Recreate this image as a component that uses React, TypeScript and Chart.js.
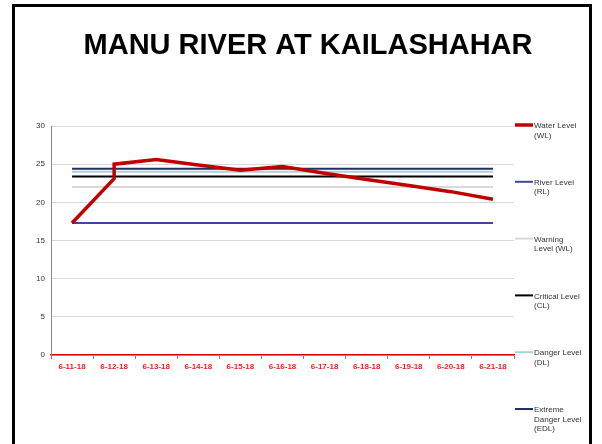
import React, { useEffect, useRef } from "react";
import { Chart, registerables } from "chart.js";

Chart.register(...registerables);

const TITLE = "MANU RIVER AT KAILASHAHAR";

const dates = [
  "6-11-18", "6-12-18", "6-13-18", "6-14-18", "6-15-18", "6-16-18",
  "6-17-18", "6-18-18", "6-19-18", "6-20-18", "6-21-18",
];

// Water level readings (6-12 has two readings, drawn as a vertical jump)
const waterDates = [
  "6-11-18", "6-12-18", "6-12-18", "6-13-18", "6-14-18", "6-15-18",
  "6-16-18", "6-17-18", "6-18-18", "6-19-18", "6-20-18", "6-21-18",
];
const waterValues = [17.3, 23.1, 25.0, 25.6, 24.9, 24.2, 24.7, 23.8, 23.0, 22.2, 21.4, 20.4];

const riverLevel = [17.3, 17.3, 17.3, 17.3, 17.3, 17.3, 17.3, 17.3, 17.3, 17.3, 17.3];
const warningLevel = [22.0, 22.0, 22.0, 22.0, 22.0, 22.0, 22.0, 22.0, 22.0, 22.0, 22.0];
const criticalLevel = [23.4, 23.4, 23.4, 23.4, 23.4, 23.4, 23.4, 23.4, 23.4, 23.4, 23.4];
const dangerLevel = [24.0, 24.0, 24.0, 24.0, 24.0, 24.0, 24.0, 24.0, 24.0, 24.0, 24.0];
const extremeLevel = [24.4, 24.4, 24.4, 24.4, 24.4, 24.4, 24.4, 24.4, 24.4, 24.4, 24.4];

const legendLabels = [
  ["Water Level", "(WL)"],
  ["River Level", "(RL)"],
  ["Warning", "Level (WL)"],
  ["Critical Level", "(CL)"],
  ["Danger Level", "(DL)"],
  ["Extreme", "Danger Level", "(EDL)"],
];

const FONT = "'Liberation Sans', Arial, Helvetica, sans-serif";

const framePlugin = {
  id: "frameTitleLegend",
  beforeDraw(chart: any) {
    const ctx = chart.ctx;
    ctx.save();
    ctx.fillStyle = "#ffffff";
    ctx.fillRect(0, 0, chart.width, chart.height);
    ctx.strokeStyle = "#000000";
    ctx.lineWidth = 3;
    ctx.strokeRect(13.5, 5.5, 577, 460);
    ctx.fillStyle = "#000000";
    ctx.font = `bold 29px ${FONT}`;
    ctx.textAlign = "center";
    ctx.textBaseline = "alphabetic";
    ctx.fillText(TITLE, 308, 54);
    ctx.restore();
  },
  afterDraw(chart: any) {
    const ctx = chart.ctx;
    ctx.save();
    const startY = 125;
    const step = 56.8;
    chart.data.datasets.forEach((ds: any, i: number) => {
      const y = startY + i * step;
      ctx.strokeStyle = ds.borderColor;
      ctx.lineWidth = ds.borderWidth;
      ctx.beginPath();
      ctx.moveTo(515, y);
      ctx.lineTo(533, y);
      ctx.stroke();
      ctx.fillStyle = "#333333";
      ctx.font = `8px ${FONT}`;
      ctx.textAlign = "left";
      ctx.textBaseline = "middle";
      legendLabels[i].forEach((t, j) => {
        ctx.fillText(t, 534, y + 1 + j * 9.4);
      });
    });
    ctx.restore();
  },
};

export default function App() {
  const ref = useRef<HTMLCanvasElement | null>(null);

  useEffect(() => {
    if (!ref.current) return;
    const waterData = waterDates.map((d, i) => ({ x: d, y: waterValues[i] }));
    const chart = new Chart(ref.current, {
      type: "line",
      data: {
        labels: dates,
        datasets: [
          { label: "Water Level (WL)", data: waterData as any, borderColor: "#c00000", borderWidth: 3.5, pointRadius: 0, tension: 0, fill: false },
          { label: "River Level (RL)", data: riverLevel, borderColor: "#44449e", borderWidth: 2, pointRadius: 0, fill: false },
          { label: "Warning Level (WL)", data: warningLevel, borderColor: "#d9d9d9", borderWidth: 2, pointRadius: 0, fill: false },
          { label: "Critical Level (CL)", data: criticalLevel, borderColor: "#000000", borderWidth: 2, pointRadius: 0, fill: false },
          { label: "Danger Level (DL)", data: dangerLevel, borderColor: "#b7cdd6", borderWidth: 2, pointRadius: 0, fill: false },
          { label: "Extreme Danger Level (EDL)", data: extremeLevel, borderColor: "#1f3068", borderWidth: 2, pointRadius: 0, fill: false },
        ],
      },
      options: {
        responsive: false,
        animation: false,
        devicePixelRatio: 1,
        layout: { padding: { left: 20, right: 88, top: 126, bottom: 0 } },
        plugins: {
          legend: { display: false },
          title: { display: false },
          tooltip: { enabled: false },
        },
        scales: {
          x: {
            type: "category",
            offset: true,
            grid: {
              display: true,
              drawOnChartArea: false,
              drawTicks: true,
              tickLength: 4,
              offset: true,
              color: "#e06060",
            },
            border: { display: true, color: "#e00000", width: 1.5 },
            ticks: {
              color: "#ee2222",
              font: { family: FONT, size: 8, weight: "bold" },
              padding: 3,
              maxRotation: 0,
              autoSkip: false,
            },
            afterFit: (s: any) => {
              s.height = 89;
            },
          },
          y: {
            min: 0,
            max: 30,
            ticks: {
              stepSize: 5,
              color: "#333333",
              font: { family: FONT, size: 8 },
              padding: 6,
            },
            grid: { color: "#d9d9d9", drawTicks: false, lineWidth: 1 },
            border: { display: true, color: "#888888", width: 1 },
            afterFit: (s: any) => {
              s.width = 31;
            },
          },
        },
      },
      plugins: [framePlugin],
    });
    return () => chart.destroy();
  }, []);

  return (
    <div style={{ position: "fixed", left: 0, top: 0, width: 602, height: 444, background: "#fff" }}>
      <canvas ref={ref} width={602} height={444} style={{ display: "block", width: 602, height: 444 }} />
    </div>
  );
}
